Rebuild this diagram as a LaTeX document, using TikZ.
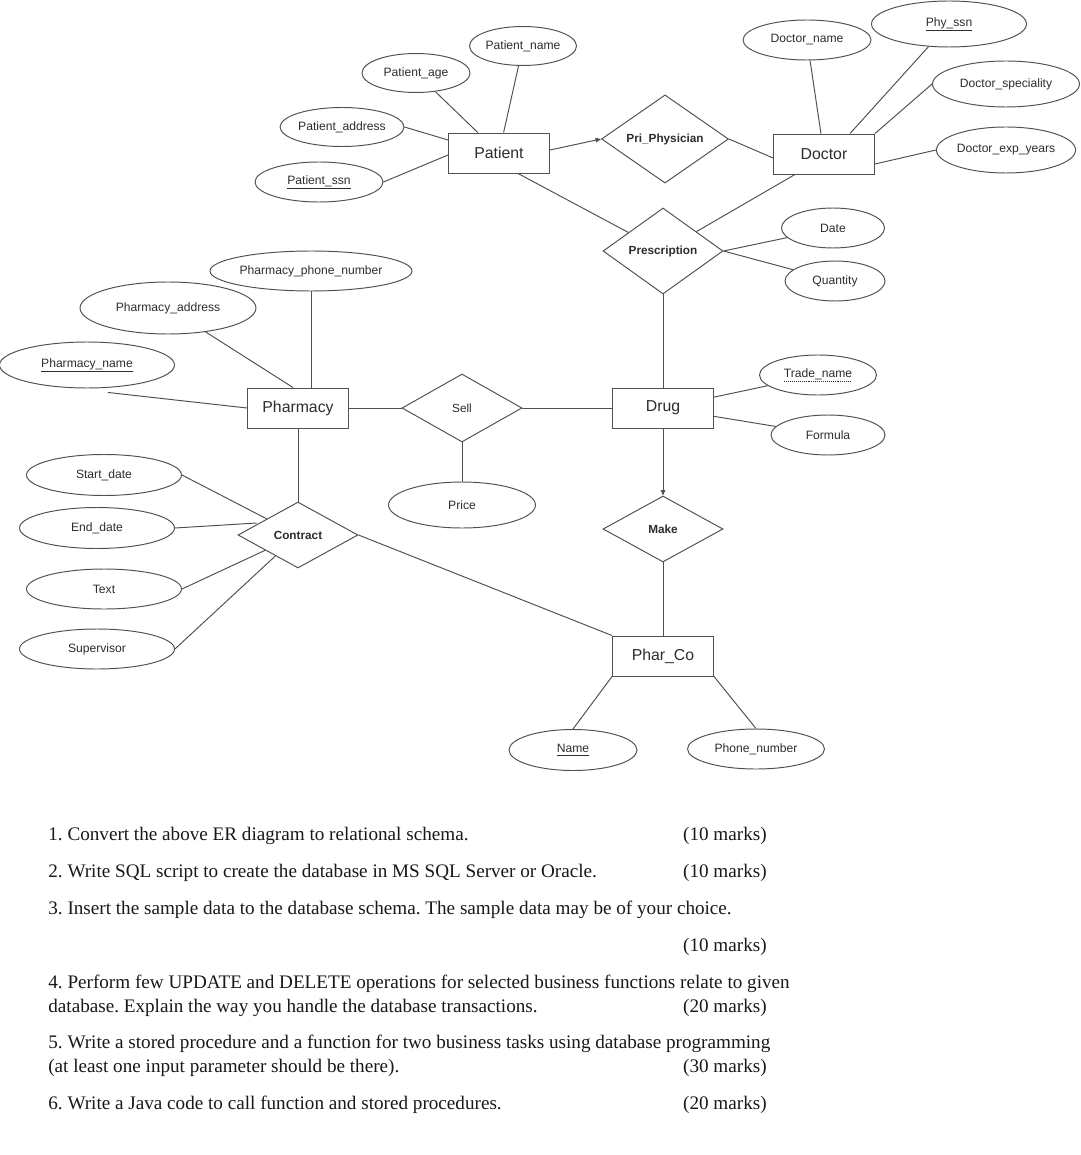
\documentclass[tikz,border=0pt]{standalone}
\usepackage{fontspec}
\setmainfont{Liberation Serif}
\setsansfont{Liberation Sans}
\usetikzlibrary{shapes.geometric,arrows.meta,calc}
\frenchspacing
\newsavebox\myULbox
\newcommand\solidUL[1]{\sbox\myULbox{#1}\leavevmode\rlap{\raisebox{-2.3pt}{\rule{\wd\myULbox}{0.4pt}}}\usebox\myULbox}
\newcommand\fineDotUL[1]{\sbox\myULbox{#1}\leavevmode\rlap{\raisebox{-2.3pt}{\hbox to \wd\myULbox{\leaders\hbox to 1.1pt{\hss\rule{0.55pt}{0.35pt}\hss}\hfill}}}\usebox\myULbox}
\definecolor{lineC}{RGB}{80,80,80}
\definecolor{txtC}{RGB}{45,45,45}
\tikzset{
  base/.style={draw=lineC, line width=0.55pt, text=txtC, inner sep=0pt, font=\sffamily},
  entity/.style={base, rectangle, minimum width=2.02cm, minimum height=0.8cm, font=\sffamily\fontsize{9}{11}\selectfont},
  rel/.style={base, diamond, font=\sffamily\bfseries\fontsize{6.7}{8}\selectfont},
  relplain/.style={base, diamond, font=\sffamily\fontsize{6.7}{8}\selectfont},
  attr/.style={base, ellipse, font=\sffamily\fontsize{6.9}{8}\selectfont},
  conn/.style={draw=lineC, line width=0.55pt},
  arr/.style={conn, -{Triangle[length=1.1mm,width=0.9mm]}},
  qtext/.style={anchor=base west, inner sep=0pt, font=\fontsize{10.9}{12}\selectfont, text=black!90},
  marks/.style={anchor=base east, inner sep=0pt, font=\fontsize{10.9}{12}\selectfont, text=black!90}
}
\begin{document}
\begin{tikzpicture}[x=0.02cm, y=-0.02cm]
\useasboundingbox[fill=white] (0,0) rectangle (1080,1155);

% entities
\node[entity] (Patient)  at (499,153) {Patient};
\node[entity] (Doctor)   at (824,154) {Doctor};
\node[entity] (Pharmacy) at (298,408) {Pharmacy};
\node[entity] (Drug)     at (663,408) {Drug};
\node[entity] (PharCo)   at (663,656) {Phar\_Co};

% relationships
\node[rel, minimum width=2.54cm, minimum height=1.76cm] (PriP)     at (665,139) {Pri\_Physician};
\node[rel, minimum width=2.4cm, minimum height=1.72cm]  (Presc)    at (663,251) {Prescription};
\node[relplain, minimum width=2.4cm, minimum height=1.36cm] (Sell) at (462,408) {Sell};
\node[rel, minimum width=2.4cm, minimum height=1.32cm]  (Contract) at (298,535) {Contract};
\node[rel, minimum width=2.4cm, minimum height=1.32cm]  (Make)     at (663,529) {Make};

% attributes
\node[attr, minimum width=2.14cm, minimum height=0.78cm] (PName)  at (523,46)  {Patient\_name};
\node[attr, minimum width=2.16cm, minimum height=0.78cm] (PAge)   at (416,73)  {Patient\_age};
\node[attr, minimum width=2.18cm, minimum height=0.78cm] (PAddr)  at (342,127) {Patient\_address};
\node[attr, minimum width=2.56cm, minimum height=0.8cm]  (PSsn)   at (319,182) {\solidUL{Patient\_ssn}};
\node[attr, minimum width=2.56cm, minimum height=0.8cm]  (DName)  at (807,40)  {Doctor\_name};
\node[attr, minimum width=3.1cm,  minimum height=0.92cm] (PhySsn) at (949,24)  {\solidUL{Phy\_ssn}};
\node[attr, minimum width=2.94cm, minimum height=0.92cm] (DSpec)  at (1006,84) {Doctor\_speciality};
\node[attr, minimum width=2.7cm,  minimum height=0.92cm] (DExp)   at (1006,150) {Doctor\_exp\_years};
\node[attr, minimum width=2.06cm, minimum height=0.8cm]  (Date)   at (833,228) {Date};
\node[attr, minimum width=2.0cm,  minimum height=0.8cm]  (Qty)    at (835,281) {Quantity};
\node[attr, minimum width=3.56cm, minimum height=0.8cm]  (PPhone) at (311,271) {Pharmacy\_phone\_number};
\node[attr, minimum width=3.52cm, minimum height=1.04cm] (PhAddr) at (168,308) {Pharmacy\_address};
\node[attr, minimum width=3.5cm,  minimum height=0.92cm] (PhName) at (87,365)  {\solidUL{Pharmacy\_name}};
\node[attr, minimum width=2.34cm, minimum height=0.8cm]  (Trade)  at (818,375) {\fineDotUL{Trade\_name}};
\node[attr, minimum width=2.28cm, minimum height=0.8cm]  (Formula) at (828,435) {Formula};
\node[attr, minimum width=2.94cm, minimum height=0.92cm] (Price)  at (462,505) {Price};
\node[attr, minimum width=3.1cm,  minimum height=0.82cm] (Start)  at (104,475) {Start\_date};
\node[attr, minimum width=3.1cm,  minimum height=0.82cm] (End)    at (97,528)  {End\_date};
\node[attr, minimum width=3.1cm,  minimum height=0.8cm]  (Text)   at (104,589) {Text};
\node[attr, minimum width=3.1cm,  minimum height=0.8cm]  (Super)  at (97,649)  {Supervisor};
\node[attr, minimum width=2.56cm, minimum height=0.82cm] (Name)   at (573,750) {\solidUL{Name}};
\node[attr, minimum width=2.74cm, minimum height=0.8cm]  (Phone)  at (756,749) {Phone\_number};

% connectors: Patient
\draw[conn] (PName) -- (Patient);
\draw[conn] (PAge) -- (Patient);
\draw[conn] (PAddr.east) -- ($(Patient.west)+(0,-13)$);
\draw[conn] (PSsn.east) -- ($(Patient.west)+(0,2)$);
\draw[arr] ($(Patient.east)+(0,-3)$) -- (PriP.west);
\draw[conn] (PriP.east) -- ($(Doctor.west)+(0,4)$);
\draw[conn] ($(Patient.south)+(19,0)$) -- (Presc);
% Doctor
\draw[conn] (DName) -- (Doctor);
\draw[conn] (PhySsn) -- ($(Doctor.north)+(26,0)$);
\draw[conn] (DSpec.west) -- (Doctor.north east);
\draw[conn] (DExp.west) -- ($(Doctor.east)+(0,10)$);
\draw[conn] ($(Doctor.south)+(-29,0)$) -- (Presc);
% Prescription
\draw[conn] (Presc.east) -- (Date);
\draw[conn] (Presc.east) -- (Qty);
\draw[conn] (Presc.south) -- (Drug.north);
% Pharmacy
\draw[conn] (PPhone.south) -- (PPhone.south |- Pharmacy.north);
\draw[conn] (PhAddr) -- ($(Pharmacy.north)+(-5,0)$);
\draw[conn] ($(PhName.south)+(21,4)$) -- (Pharmacy.west);
\draw[conn] (Pharmacy.east) -- (Sell.west);
\draw[conn] (Sell.east) -- (Drug.west);
\draw[conn] (Sell.south) -- (Price.north);
\draw[conn] (Pharmacy.south) -- (Contract.north);
% Drug
\draw[conn] (Drug) -- (Trade);
\draw[conn] (Drug) -- (Formula);
\draw[arr] (Drug.south) -- (Make.north);
\draw[conn] (Make.south) -- (PharCo.north);
% Contract
\draw[conn] (Contract.east) -- (PharCo.north west);
\draw[conn] (Start.east) -- (Contract);
\draw[conn] (End.east) -- ($(Contract.west)+(19,-12)$);
\draw[conn] (Text.east) -- (Contract);
\draw[conn] (Super.east) -- (Contract);
% Phar_Co
\draw[conn] (PharCo.south west) -- (Name.north);
\draw[conn] (PharCo.south east) -- (Phone.north);

% questions
\node[qtext] (q1) at (48,840) {1. Convert the above ER diagram to relational schema.};
\node[marks] (m1) at (767,840) {(10 marks)};
\node[qtext] (q2) at (48,877) {2. Write SQL script to create the database in MS SQL Server or Oracle.};
\node[marks] (m2) at (767,877) {(10 marks)};
\node[qtext] (q3) at (48,914) {3. Insert the sample data to the database schema. The sample data may be of your choice.};
\node[marks] (m3) at (767,951) {(10 marks)};
\node[qtext] (q4a) at (48,988) {4. Perform few UPDATE and DELETE operations for selected business functions relate to given};
\node[qtext] (q4b) at (48,1012) {database. Explain the way you handle the database transactions.};
\node[marks] (m4) at (767,1012) {(20 marks)};
\node[qtext] (q5a) at (48,1048) {5. Write a stored procedure and a function for two business tasks using database programming};
\node[qtext] (q5b) at (48,1072) {(at least one input parameter should be there).};
\node[marks] (m5) at (767,1072) {(30 marks)};
\node[qtext] (q6) at (48,1109) {6. Write a Java code to call function and stored procedures.};
\node[marks] (m6) at (767,1109) {(20 marks)};
\end{tikzpicture}
\end{document}
